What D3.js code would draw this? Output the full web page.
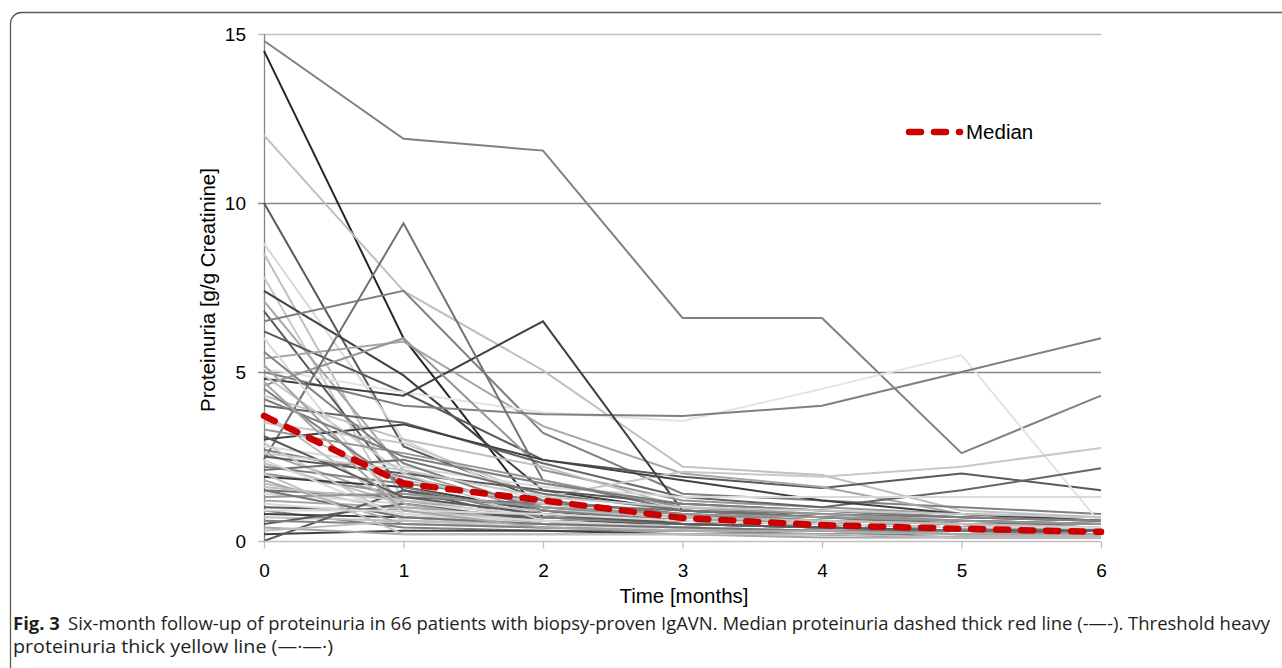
<!DOCTYPE html>
<html>
<head>
<meta charset="utf-8">
<script src="https://d3js.org/d3.v7.min.js"></script>
<style>
  body { margin: 0; background: #fff; }
  text { font-family: 'Liberation Sans', Arial, sans-serif; }
  .caption { font-family: 'Open Sans', sans-serif; font-size: 18px; fill: #231f20; }
</style>
</head>
<body>
<div id="chart"></div>
<script>
// months of follow-up
var months = [0, 1, 2, 3, 4, 5, 6];
var yTicks = [0, 5, 10, 15];

// proteinuria per patient (g/g creatinine), one row per patient, values at months 0..6
var patients = [
  [14.8, 11.9, 11.55, 6.6, 6.6, 2.6, 4.3],
  [14.5, 6.0, 0.7, 0.5, 0.4, 0.3, 0.2],
  [12.0, 7.4, 5.05, 2.2, 1.95, 0.9, 0.7],
  [10.0, 2.8, 1.2, 0.8, 0.6, 0.5, 0.4],
  [8.8, 3.0, 1.0, 0.6, 0.5, 0.4, 0.4],
  [8.5, 1.2, 0.7, 0.5, 0.4, 0.3, 0.3],
  [7.8, 0.7, 0.6, 0.4, 0.3, 0.3, 0.3],
  [7.4, 4.9, 1.5, 0.9, 0.7, 0.6, 0.5],
  [7.1, 2.1, 0.8, 0.6, 0.5, 0.4, 0.3],
  [6.8, 1.5, 0.6, 0.4, 0.3, 0.3, 0.2],
  [6.5, 7.4, 3.2, 1.4, 1.2, 1.0, 0.8],
  [6.2, 4.4, 2.4, 1.9, 1.57, 2.0, 1.5],
  [5.4, 5.9, 3.4, 2.0, 1.6, 0.8, 0.6],
  [5.1, 4.4, 3.8, 3.55, 4.5, 5.5, 0.5],
  [5.0, 4.0, 3.75, 3.7, 4.0, 5.0, 6.0],
  [4.8, 4.3, 6.5, 0.9, 0.7, 0.5, 0.4],
  [4.6, 6.0, 2.1, 1.2, 1.0, 0.8, 0.7],
  [2.4, 9.4, 1.8, 0.9, 0.7, 0.5, 0.5],
  [4.3, 3.0, 2.2, 1.0, 0.8, 0.6, 0.5],
  [4.0, 3.5, 2.3, 1.3, 1.0, 1.5, 2.15],
  [3.5, 2.9, 1.3, 2.05, 1.9, 2.2, 2.75],
  [3.0, 3.45, 2.4, 1.8, 1.2, 0.8, 0.6],
  [2.8, 2.2, 1.6, 1.3, 1.3, 1.3, 1.3],
  [2.7, 1.9, 1.0, 0.7, 0.6, 0.5, 0.4],
  [2.6, 1.2, 0.7, 0.5, 0.4, 0.3, 0.3],
  [2.5, 2.0, 1.5, 1.1, 0.9, 0.7, 0.6],
  [2.3, 1.1, 0.8, 0.6, 0.5, 0.4, 0.4],
  [2.2, 1.7, 1.2, 0.8, 0.6, 0.5, 0.4],
  [2.0, 1.4, 1.0, 0.7, 0.5, 0.4, 0.3],
  [1.9, 1.6, 0.9, 0.5, 0.4, 0.3, 0.3],
  [1.7, 0.9, 0.6, 0.5, 0.4, 0.3, 0.2],
  [1.5, 1.3, 1.1, 0.9, 0.8, 0.7, 0.6],
  [1.4, 1.1, 0.8, 0.6, 0.5, 0.4, 0.4],
  [1.2, 1.0, 0.7, 0.5, 0.4, 0.3, 0.3],
  [1.0, 0.9, 0.7, 0.6, 0.5, 0.4, 0.3],
  [0.9, 0.4, 0.3, 0.3, 0.2, 0.2, 0.2],
  [0.8, 0.7, 0.5, 0.4, 0.3, 0.3, 0.2],
  [0.7, 0.6, 0.5, 0.4, 0.3, 0.2, 0.2],
  [0.5, 1.1, 0.6, 0.5, 0.4, 0.3, 0.3],
  [0.2, 0.3, 0.3, 0.2, 0.2, 0.1, 0.1],
  [0.0, 1.5, 0.9, 0.6, 0.5, 0.4, 0.3],
  [4.9, 2.0, 0.6, 0.4, 0.3, 0.3, 0.2],
  [5.2, 1.1, 0.5, 0.3, 0.3, 0.2, 0.2],
  [6.0, 0.8, 0.5, 0.4, 0.3, 0.2, 0.2],
  [4.5, 1.6, 0.7, 0.5, 0.4, 0.3, 0.3],
  [3.8, 0.9, 0.6, 0.4, 0.3, 0.3, 0.2],
  [3.3, 2.6, 1.8, 1.0, 0.8, 0.6, 0.5],
  [2.9, 0.6, 0.4, 0.3, 0.3, 0.2, 0.2],
  [2.1, 2.4, 1.4, 0.9, 0.7, 0.6, 0.5],
  [1.8, 0.5, 0.4, 0.3, 0.3, 0.2, 0.2],
  [1.6, 1.2, 0.9, 0.7, 0.6, 0.5, 0.4],
  [1.1, 0.8, 0.6, 0.4, 0.3, 0.3, 0.2],
  [0.6, 0.5, 0.4, 0.3, 0.3, 0.2, 0.2],
  [0.4, 0.2, 0.2, 0.2, 0.1, 0.1, 0.1],
  [3.6, 1.8, 1.1, 0.7, 0.6, 0.5, 0.4],
  [4.2, 2.5, 1.7, 1.1, 0.9, 0.7, 0.6],
  [2.4, 0.7, 0.5, 0.3, 0.3, 0.2, 0.2],
  [1.3, 1.4, 1.0, 0.8, 0.7, 0.6, 0.5],
  [0.3, 0.6, 0.5, 0.4, 0.3, 0.2, 0.2],
  [5.6, 2.3, 0.9, 0.6, 0.5, 0.4, 0.3],
  [3.1, 1.3, 0.8, 0.5, 0.4, 0.3, 0.3],
  [2.6, 2.1, 1.3, 1.0, 0.9, 0.8, 0.7],
  [1.5, 0.7, 0.5, 0.4, 0.3, 0.3, 0.2],
  [0.9, 0.9, 0.8, 0.6, 0.5, 0.4, 0.4],
  [4.7, 0.9, 0.4, 0.3, 0.3, 0.2, 0.2],
  [2.0, 0.2, 0.2, 0.2, 0.2, 0.1, 0.1]
];

var median = [3.7, 1.7, 1.2, 0.68, 0.47, 0.36, 0.27];

// grey shade for each patient line (same order as patients)
var shades = [
  "#808080", "#262626", "#c0c0c0", "#595959", "#d9d9d9", "#bfbfbf", "#c8c8c8", "#404040",
  "#a6a6a6", "#595959", "#808080", "#595959", "#a6a6a6", "#e3e3e3", "#7f7f7f", "#404040",
  "#969696", "#737373", "#bfbfbf", "#666666", "#c8c8c8", "#404040", "#d9d9d9", "#808080",
  "#a6a6a6", "#595959", "#bfbfbf", "#808080", "#969696", "#404040", "#bfbfbf", "#737373",
  "#d9d9d9", "#a6a6a6", "#595959", "#808080", "#404040", "#bfbfbf", "#595959", "#404040",
  "#595959", "#c8c8c8", "#a6a6a6", "#d9d9d9", "#808080", "#bfbfbf", "#969696", "#c8c8c8",
  "#737373", "#a6a6a6", "#bfbfbf", "#d9d9d9", "#808080", "#a6a6a6", "#bfbfbf", "#808080",
  "#d9d9d9", "#969696", "#bfbfbf", "#808080", "#595959", "#c8c8c8", "#737373", "#d9d9d9",
  "#a6a6a6", "#bfbfbf"
];

var W = 1282, H = 668;
var svg = d3.select("#chart").append("svg")
  .attr("width", W)
  .attr("height", H);

// figure frame
svg.append("rect")
  .attr("x", 10.5).attr("y", 12.5)
  .attr("width", 1320).attr("height", 700)
  .attr("rx", 11)
  .attr("fill", "none")
  .attr("stroke", "#5a5a5a")
  .attr("stroke-width", 1.3);

var x = d3.scaleLinear().domain([0, 6]).range([264, 1101]);
var y = d3.scaleLinear().domain([0, 15]).range([541, 34]);

// gridlines
svg.append("g")
  .selectAll("line")
  .data(yTicks.filter(d => d > 0))
  .join("line")
  .attr("x1", x(0) - 6).attr("x2", x(6))
  .attr("y1", d => Math.round(y(d)) + 0.5).attr("y2", d => Math.round(y(d)) + 0.5)
  .attr("stroke", d => d === 15 ? "#bfbfbf" : "#868686")
  .attr("stroke-width", 1.3);

// y axis line
svg.append("line")
  .attr("x1", x(0) + 0.5).attr("x2", x(0) + 0.5)
  .attr("y1", y(15)).attr("y2", y(0))
  .attr("stroke", "#868686").attr("stroke-width", 1.3);

var line = d3.line()
  .x((d, i) => x(months[i]))
  .y(d => y(d));

svg.append("g")
  .selectAll("path")
  .data(patients)
  .join("path")
  .attr("d", line)
  .attr("fill", "none")
  .attr("stroke", (d, i) => shades[i])
  .attr("stroke-width", 2);

// x axis
var xAxis = svg.append("g")
  .attr("transform", "translate(0," + (y(0) + 0.5) + ")")
  .call(d3.axisBottom(x).tickValues(months).tickSize(7).tickSizeOuter(0).tickPadding(15).tickFormat(d3.format("d")));
xAxis.select(".domain").attr("stroke", "#bfbfbf").attr("stroke-width", 1.6)
  .attr("d", "M" + (x(0) - 6) + ",0H" + x(6));
xAxis.selectAll(".tick line").attr("stroke", "#bfbfbf").attr("stroke-width", 1.3);
xAxis.selectAll(".tick text")
  .attr("font-family", "'Liberation Sans', Arial, sans-serif")
  .attr("font-size", 19).attr("fill", "#000");

// y tick labels
svg.append("g")
  .selectAll("text")
  .data(yTicks)
  .join("text")
  .attr("x", 246)
  .attr("y", d => y(d))
  .attr("dy", "0.36em")
  .attr("text-anchor", "end")
  .attr("font-size", 19)
  .text(d => d);

// median
svg.append("path")
  .datum(median)
  .attr("d", line)
  .attr("fill", "none")
  .attr("stroke", "#cc0000")
  .attr("stroke-width", 6.5)
  .attr("stroke-linecap", "round")
  .attr("stroke-dasharray", "12,13");

// legend
svg.append("line")
  .attr("x1", 909).attr("x2", 960)
  .attr("y1", 132).attr("y2", 132)
  .attr("stroke", "#cc0000")
  .attr("stroke-width", 6.5)
  .attr("stroke-linecap", "round")
  .attr("stroke-dasharray", "12,13");
svg.append("text")
  .attr("x", 966).attr("y", 139)
  .attr("font-size", 20.5)
  .text("Median");

// axis titles
svg.append("text")
  .attr("transform", "translate(215,290) rotate(-90)")
  .attr("text-anchor", "middle")
  .attr("font-size", 20.5)
  .text("Proteinuria [g/g Creatinine]");
svg.append("text")
  .attr("x", 684).attr("y", 603)
  .attr("text-anchor", "middle")
  .attr("font-size", 20.5)
  .text("Time [months]");

// caption
var cap1 = svg.append("text").attr("class", "caption").attr("x", 13).attr("y", 630);
cap1.append("tspan").attr("font-weight", "bold").text("Fig. 3");
cap1.append("tspan").attr("dx", 8).text("Six-month follow-up of proteinuria in 66 patients with biopsy-proven IgAVN. Median proteinuria dashed thick red line (-\u2014-). Threshold heavy");
cap1.attr("textLength", 1257).attr("lengthAdjust", "spacingAndGlyphs");

svg.append("text").attr("class", "caption").attr("x", 13).attr("y", 653)
  .attr("textLength", 320).attr("lengthAdjust", "spacingAndGlyphs")
  .text("proteinuria thick yellow line (\u2014\u00b7\u2014\u00b7)");
</script>
</body>
</html>
